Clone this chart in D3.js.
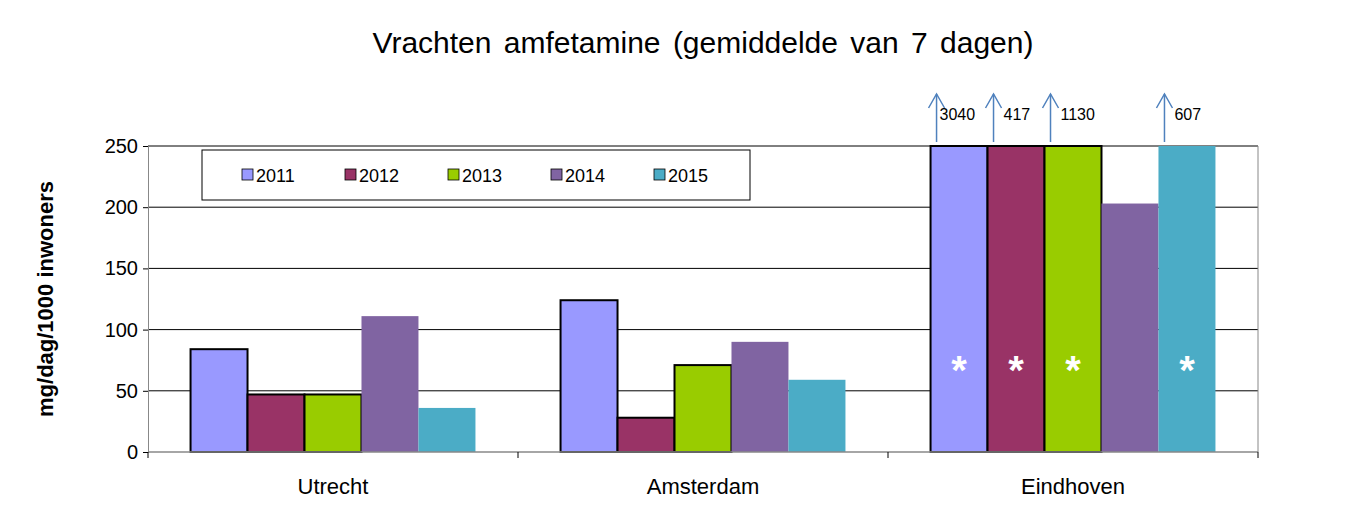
<!DOCTYPE html>
<html><head><meta charset="utf-8">
<script src="https://cdn.jsdelivr.net/npm/d3@7"></script>
<style>body{margin:0;background:#fff}</style></head><body>
<svg id="c" width="1366" height="526"></svg>
<script>
const categories = ["Utrecht","Amsterdam","Eindhoven"];
const years = ["2011","2012","2013","2014","2015"];
const colors = ["#9999FF","#993366","#99CC00","#8064A2","#4BACC6"];
const outlined = [true,true,true,false,false];
const values = {
  "2011":[84,124,3040],
  "2012":[47,28,417],
  "2013":[47,71,1130],
  "2014":[111,90,203],
  "2015":[36,59,607]
};
const yTicks = [0,50,100,150,200,250];
const yMax = 250;

const svg = d3.select("#c");
const L=148,R=1258,T=146,B=452;
const x0 = d3.scaleBand().domain(categories).range([L,R]).paddingInner(0.23).paddingOuter(0.115);
const x1 = d3.scaleBand().domain(years).range([0,x0.bandwidth()]);
const y = d3.scaleLinear().domain([0,yMax]).range([B,T]);

// gridlines
svg.append("g").selectAll("line").data(yTicks.slice(1)).join("line")
  .attr("x1",L).attr("x2",R).attr("y1",d=>y(d)).attr("y2",d=>y(d)).attr("stroke","#000").attr("stroke-width",1);
svg.append("line").attr("x1",R).attr("x2",R).attr("y1",T).attr("y2",B).attr("stroke","#888");

// bars
categories.forEach((c,ci)=>{
  years.forEach((yr,yi)=>{
    const v = values[yr][ci];
    const vv = Math.min(v,yMax);
    svg.append("rect").attr("x",x0(c)+x1(yr)).attr("width",x1.bandwidth())
      .attr("y",y(vv)).attr("height",y(0)-y(vv)).attr("fill",colors[yi])
      .attr("stroke",outlined[yi]?"#000":"none").attr("stroke-width",2);
    if(v>yMax){
      const ax = x0(c)+x1(yr)+6;
      svg.append("line").attr("x1",ax).attr("x2",ax).attr("y1",T-4).attr("y2",T-52).attr("stroke","#4F81BD").attr("stroke-width",1.5);
      svg.append("path").attr("d",`M${ax-8},${T-38}L${ax},${T-52}L${ax+8},${T-38}`).attr("fill","none").attr("stroke","#4F81BD").attr("stroke-width",1.5);
      svg.append("text").attr("x",ax+(yi===0?3:yi===1?10:10)).attr("y",T-26).attr("font-family","Liberation Sans, Arial").attr("font-size",16).text(v);
      svg.append("text").attr("x",x0(c)+x1(yr)+x1.bandwidth()/2).attr("y",384).attr("text-anchor","middle")
        .attr("fill","#fff").attr("font-family","Liberation Sans, Arial").attr("font-weight","bold").attr("font-size",40).text("*");
    }
  });
});

// axes
const ya = d3.axisLeft(y).tickValues(yTicks).tickSize(5).tickSizeOuter(0);
const gy = svg.append("g").attr("transform",`translate(${L},0)`).call(ya);
gy.selectAll("text").attr("font-family","Liberation Sans, Arial").attr("font-size",20).attr("fill","#000").attr("dx","-2");
gy.select(".domain").attr("stroke","#888");
svg.append("line").attr("x1",L).attr("x2",R).attr("y1",B).attr("y2",B).attr("stroke","#888").attr("stroke-width",1.5);
[L, L+370, L+740, R].forEach(t=>svg.append("line").attr("x1",t).attr("x2",t).attr("y1",B).attr("y2",B+6).attr("stroke","#000"));
svg.append("g").selectAll("text").data(categories).join("text")
  .attr("x",d=>x0(d)+x0.bandwidth()/2).attr("y",494).attr("text-anchor","middle")
  .attr("font-family","Liberation Sans, Arial").attr("font-size",22).text(d=>d);

svg.append("text").attr("transform","translate(53,299) rotate(-90)").attr("text-anchor","middle")
  .attr("font-family","Liberation Sans, Arial").attr("font-weight","bold").attr("font-size",22).text("mg/dag/1000 inwoners");
svg.append("text").attr("x",703).attr("y",53).attr("text-anchor","middle")
  .attr("font-family","Liberation Sans, Arial").attr("font-size",30).attr("word-spacing",4).text("Vrachten amfetamine (gemiddelde van 7 dagen)");

// legend
const lg = svg.append("g");
lg.append("rect").attr("x",202).attr("y",150).attr("width",548).attr("height",50).attr("fill","#fff").attr("stroke","#000");
years.forEach((yr,i)=>{
  const lx = 242 + i*103;
  lg.append("rect").attr("x",lx).attr("y",169).attr("width",11).attr("height",11).attr("fill",colors[i]).attr("stroke","#000").attr("stroke-width",0.8);
  lg.append("text").attr("x",lx+14).attr("y",182).attr("font-family","Liberation Sans, Arial").attr("font-size",18).text(yr);
});
</script></body></html>
